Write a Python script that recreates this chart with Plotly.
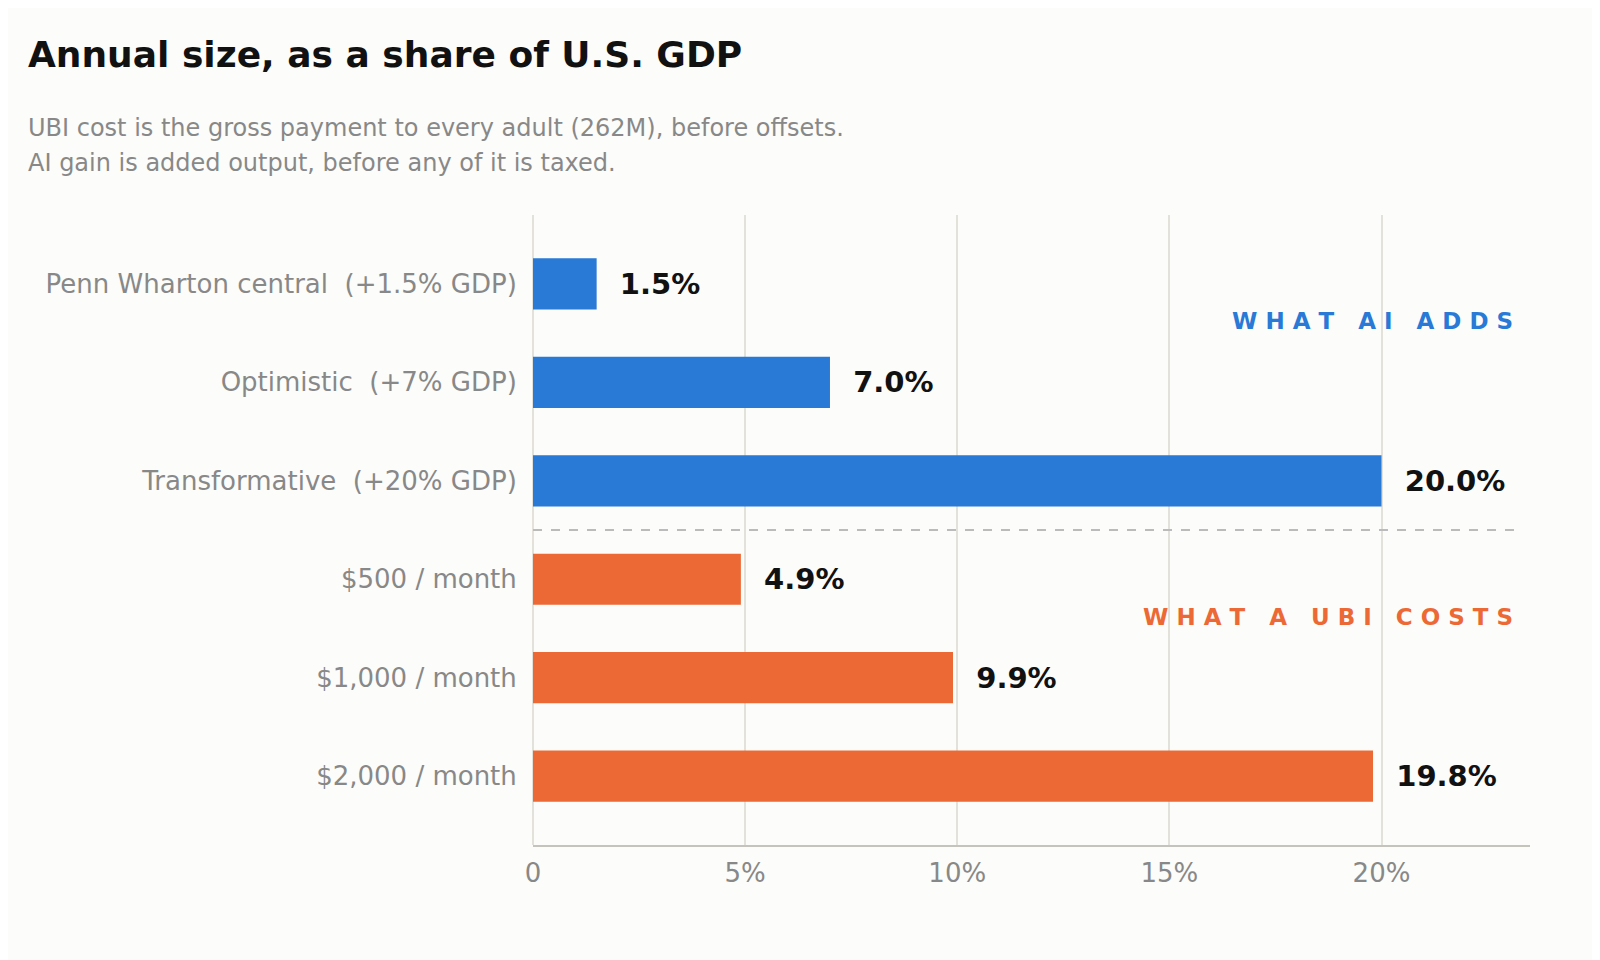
import plotly.graph_objects as go

categories = [
    "Penn Wharton central  (+1.5% GDP)",
    "Optimistic  (+7% GDP)",
    "Transformative  (+20% GDP)",
    "$500 / month",
    "$1,000 / month",
    "$2,000 / month",
]
values = [1.5, 7.0, 20.0, 4.9, 9.9, 19.8]
groups = ["ai", "ai", "ai", "ubi", "ubi", "ubi"]
tick_vals = [0, 5, 10, 15, 20]
tick_text = ["0", "5%", "10%", "15%", "20%"]

BLUE = "#2979d6"
ORANGE = "#ec6935"
GRAY = "#888888"
FONT = "DejaVu Sans"

colors = [BLUE if g == "ai" else ORANGE for g in groups]

fig = go.Figure()
fig.add_trace(go.Bar(
    x=values, y=categories, orientation="h",
    marker=dict(color=colors, line=dict(width=0)),
    width=0.52,
    text=[f"  {v:.1f}%" for v in values],
    textposition="outside",
    textfont=dict(family=FONT, size=29, color="#111111", weight="bold"),
    cliponaxis=False,
    hoverinfo="skip",
))

fig.add_shape(type="line", xref="paper", yref="y", x0=0, x1=0.99, y0=2.5, y1=2.5,
              line=dict(color="#bbbbbb", width=2, dash="dash"))

fig.add_annotation(text="W H A T   A I   A D D S", xref="paper", yref="y",
                   x=0.985, y=0.38, xanchor="right", showarrow=False,
                   font=dict(family=FONT, size=23, color=BLUE, weight="bold"))
fig.add_annotation(text="W H A T   A   U B I   C O S T S", xref="paper", yref="y",
                   x=0.985, y=3.38, xanchor="right", showarrow=False,
                   font=dict(family=FONT, size=23, color=ORANGE, weight="bold"))

# title and subtitle, placed in paper coords above the plot area (plot height 630px)
fig.add_annotation(text="<b>Annual size, as a share of U.S. GDP</b>", xref="paper", yref="paper",
                   x=-507 / 997, y=(837 - 46) / 630, xanchor="left", yanchor="middle",
                   showarrow=False, font=dict(family=FONT, size=36, color="#111111"))
fig.add_annotation(text="UBI cost is the gross payment to every adult (262M), before offsets.",
                   xref="paper", yref="paper", x=-507 / 997, y=(837 - 120) / 630,
                   xanchor="left", yanchor="middle", showarrow=False,
                   font=dict(family=FONT, size=24, color=GRAY))
fig.add_annotation(text="AI gain is added output, before any of it is taxed.",
                   xref="paper", yref="paper", x=-507 / 997, y=(837 - 155) / 630,
                   xanchor="left", yanchor="middle", showarrow=False,
                   font=dict(family=FONT, size=24, color=GRAY))

fig.update_layout(
    width=1600, height=960,
    paper_bgcolor="#fcfcfa", plot_bgcolor="#fcfcfa",
    margin=dict(l=525, r=78, t=207, b=123),
    showlegend=False,
    font=dict(family=FONT, color=GRAY),
)
fig.update_xaxes(range=[0, 23.5], tickvals=tick_vals, ticktext=tick_text,
                 tickfont=dict(size=26, color=GRAY), showgrid=True,
                 gridcolor="#e2e2da", gridwidth=2, zeroline=True,
                 zerolinecolor="#e2e2da", zerolinewidth=2,
                 showline=True, linecolor="#c4c4bc", linewidth=2,
                 ticks="outside", ticklen=4, tickcolor="rgba(0,0,0,0)")
fig.update_yaxes(categoryorder="array", categoryarray=categories,
                 autorange=False, range=[5.7, -0.7],
                 tickfont=dict(size=26, color=GRAY),
                 ticks="outside", ticklen=10, tickcolor="rgba(0,0,0,0)",
                 showgrid=False)

fig.write_html("out.html")
